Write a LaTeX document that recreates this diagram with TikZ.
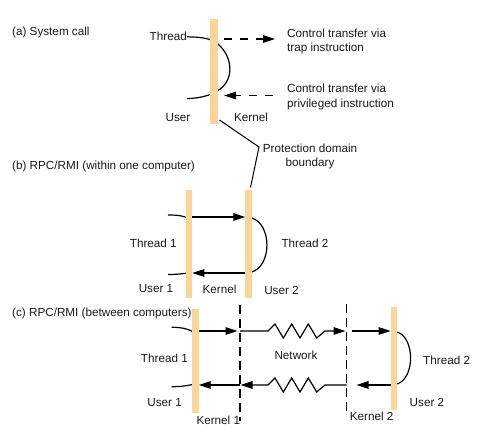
\documentclass[tikz,border=0pt]{standalone}
\usepackage{fontspec}
\setmainfont{Liberation Sans}
\usetikzlibrary{arrows.meta}
\definecolor{barc}{RGB}{250,214,153}
\begin{document}
\begin{tikzpicture}[x=1pt,y=-1pt,
  lbl/.style={font=\fontsize{11.7}{14}\selectfont, inner sep=0pt, text=black!90},
  barbox/.style={fill=barc, draw=none, inner sep=0pt},
  ln/.style={line width=1.2pt, black},
  arr/.style={ln, -{Triangle[length=12pt,width=7.5pt]}},
  dasharr/.style={arr, dash pattern=on 8pt off 8pt},
  bound/.style={line width=1.1pt, black, dash pattern=on 9pt off 5pt},
]
\useasboundingbox (0,0) rectangle (480,436);

% ---------- labels ----------
\node[lbl, anchor=base west] (capA) at (12,36) {(a) System call};
\node[lbl, anchor=base east] (thread) at (187,41) {Thread};
\node[lbl, anchor=base west] (trap1) at (287,37.5) {Control transfer via};
\node[lbl, anchor=base west] (trap2) at (287,52) {trap instruction};
\node[lbl, anchor=base west] (priv1) at (287,92.5) {Control transfer via};
\node[lbl, anchor=base west] (priv2) at (287,107) {privileged instruction};
\node[lbl, anchor=base] (userA) at (178,122) {User};
\node[lbl, anchor=base] (kernA) at (251,122) {Kernel};
\node[lbl, anchor=base] (prot1) at (310,152.5) {Protection domain};
\node[lbl, anchor=base] (prot2) at (310,167) {boundary};
\node[lbl, anchor=base west] (capB) at (12,170) {(b) RPC/RMI (within one computer)};
\node[lbl, anchor=base] (thB1) at (153.3,247.5) {Thread 1};
\node[lbl, anchor=base] (thB2) at (305,247.5) {Thread 2};
\node[lbl, anchor=base] (usB1) at (156,292.5) {User 1};
\node[lbl, anchor=base] (keB) at (219.5,293) {Kernel};
\node[lbl, anchor=base] (usB2) at (281.5,294) {User 2};
\node[lbl, anchor=base west] (capC) at (12,316) {(c) RPC/RMI (between computers)};
\node[lbl, anchor=base east] (thC1) at (188,362.5) {Thread 1};
\node[lbl, anchor=base] (net) at (296,359.5) {Network};
\node[lbl, anchor=base west] (thC2) at (423,364) {Thread 2};
\node[lbl, anchor=base east] (usC1) at (182,406.5) {User 1};
\node[lbl, anchor=base west] (usC2) at (409.5,406) {User 2};
\node[lbl, anchor=base] (keC1) at (218.3,424) {Kernel 1};
\node[lbl, anchor=base] (keC2) at (371.7,420.5) {Kernel 2};

% ---------- coordinates ----------
% (a)
\coordinate (aEnd) at (187,98.5);
\coordinate (trS) at (224,39);
\coordinate (trE) at (275,39);
\coordinate (prS) at (273,95.5);
\coordinate (prE) at (224,95.5);
\coordinate (pd1) at (219.5,120);
\coordinate (pdJ) at (259,147);
\coordinate (pd2) at (250.5,187.5);
% (b)
\coordinate (bIn) at (168,215);
\coordinate (bInE) at (188,218.5);
\coordinate (bT1) at (192.3,217);
\coordinate (bT2) at (245.3,217);
\coordinate (bC1) at (251.7,218);
\coordinate (bC2) at (251.7,272);
\coordinate (bB1) at (245.3,273);
\coordinate (bB2) at (192.3,273);
\coordinate (bOut) at (168,274.5);
\coordinate (bOutE) at (188,273);
% (c)
\coordinate (k1t) at (240,305);
\coordinate (k1b) at (240,421);
\coordinate (k2t) at (346.5,304);
\coordinate (k2b) at (346.5,416);
\coordinate (cIn) at (171.7,327.3);
\coordinate (cInE) at (192.5,331.5);
\coordinate (cT1) at (198.7,331);
\coordinate (cT2) at (237.5,331);
\coordinate (cN1) at (240,331);
\coordinate (cN2) at (345.5,331);
\coordinate (cT3) at (352,331);
\coordinate (cT4) at (390.7,331);
\coordinate (cC1) at (397.3,332);
\coordinate (cC2) at (397.3,384);
\coordinate (cB1) at (390.7,385);
\coordinate (cB2) at (356.5,385);
\coordinate (cM1) at (346.5,385);
\coordinate (cM2) at (240.5,385);
\coordinate (cB3) at (239.5,385);
\coordinate (cB4) at (198.7,385);
\coordinate (cOut) at (171.7,386.7);
\coordinate (cOutE) at (192.5,384.5);

% ---------- (a) connectors ----------
\draw[ln] (thread.east) .. controls (200,37) and (211,38) .. (218,44)
  .. controls (234,58) and (234,82) .. (217,91)
  .. controls (211,95) and (200,98.5) .. (aEnd);
\draw[dasharr] (trS) -- (trE);
\draw[dasharr] (prS) -- (prE);
\draw[line width=1pt] (pd1) -- (pdJ) -- (pd2);

% ---------- (b) connectors ----------
\draw[ln] (bIn) .. controls (179,215) and (184,216) .. (bInE);
\draw[arr] (bT1) -- (bT2);
\draw[ln] (bC1) .. controls (272,224) and (272,266) .. (bC2);
\draw[arr] (bB1) -- (bB2);
\draw[ln] (bOut) .. controls (178,274.5) and (184,273.5) .. (bOutE);

% ---------- (c) connectors ----------
\draw[bound] (k1t) -- (k1b);
\draw[bound] (k2t) -- (k2b);
\draw[ln] (cIn) .. controls (182,327.3) and (188,329) .. (cInE);
\draw[arr] (cT1) -- (cT2);
\draw[arr] (cN1) -- (268,331) -- (275,324) -- (283.3,338) -- (291.7,324)
  -- (300,338) -- (308.3,324) -- (316.7,338) -- (325,331) -- (cN2);
\draw[arr] (cT3) -- (cT4);
\draw[ln] (cC1) .. controls (415,338) and (415,378) .. (cC2);
\draw[arr] (cB1) -- (cB2);
\draw[arr] (cM1) -- (325,385) -- (316.7,392) -- (308.3,378) -- (300,392)
  -- (291.7,378) -- (283.3,392) -- (275,378) -- (268,385) -- (cM2);
\draw[arr] (cB3) -- (cB4);
\draw[ln] (cOut) .. controls (182,386.7) and (188,385.5) .. (cOutE);

% ---------- bars (protection domain boundaries) ----------
\node[barbox, minimum width=8.5pt, minimum height=105pt] (barA) at (214,71.5) {};
\node[barbox, minimum width=6.5pt, minimum height=108pt] (barB1) at (189,244) {};
\node[barbox, minimum width=6.5pt, minimum height=108pt] (barB2) at (248.5,244) {};
\node[barbox, minimum width=6.5pt, minimum height=104pt] (barC1) at (195.5,360.5) {};
\node[barbox, minimum width=6.5pt, minimum height=103pt] (barC2) at (394,358.5) {};
\end{tikzpicture}
\end{document}
